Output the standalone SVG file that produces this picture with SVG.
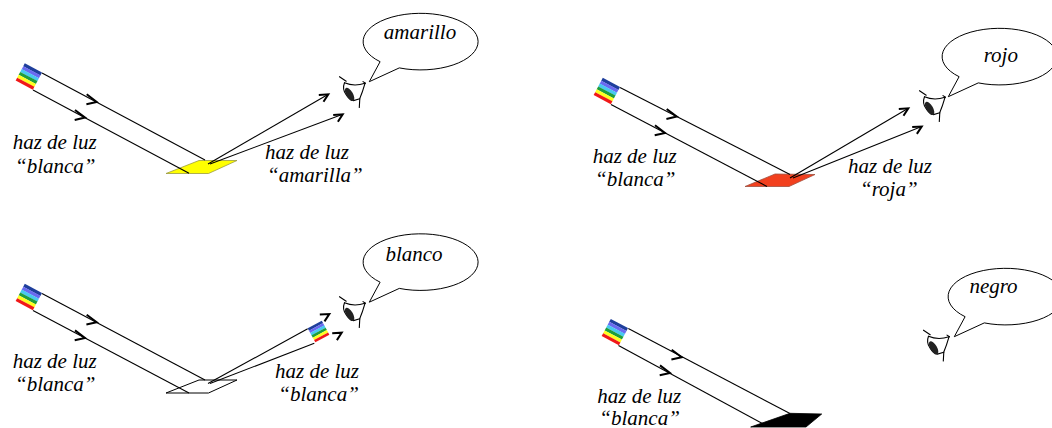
<svg xmlns="http://www.w3.org/2000/svg" xmlns:xlink="http://www.w3.org/1999/xlink" width="1052" height="428" viewBox="0 0 1052 428">
  <style>
    .lbl { font-family: "Liberation Serif", "Times New Roman", serif; font-style: italic; font-size: 21px; fill: #000; }
    .beam { fill: none; stroke: #000; stroke-width: 1.1; }
    .chev { fill: none; stroke: #000; stroke-width: 2; stroke-linejoin: miter; stroke-linecap: butt; }
    .bubble { fill: #fff; stroke: #000; stroke-width: 1; stroke-linejoin: round; }
    .eye-line { fill: none; stroke: #000; stroke-width: 1.1; stroke-linecap: round; }
  </style>
  <defs>
    <!-- white light source: six spectral bands, 19.5 x 19.5 -->
    <g id="spectrum">
      <rect x="0" y="0" width="19.5" height="3.35" fill="#1f3f9c"/>
      <rect x="0" y="3.25" width="19.5" height="3.35" fill="#6a6af0"/>
      <rect x="0" y="6.5" width="19.5" height="3.35" fill="#48c8f0"/>
      <rect x="0" y="9.75" width="19.5" height="3.35" fill="#1e9e3c"/>
      <rect x="0" y="13" width="19.5" height="3.35" fill="#ffff20"/>
      <rect x="0" y="16.25" width="19.5" height="3.25" fill="#f01818"/>
    </g>
    <!-- eye seen in profile, origin at the eyelash tick -->
    <g id="eye">
      <path class="eye-line" d="M-0.5,-0.3 L6.2,4.2"/>
      <path class="eye-line" d="M4.5,5.8 Q14,9.8 25,6.3"/>
      <path class="eye-line" d="M23,4.6 L25.5,6.2"/>
      <path class="eye-line" d="M25,6.3 Q22.5,15 19.8,21.5 L19.3,30.5"/>
      <path class="eye-line" d="M4.5,5.8 Q2,12 6,17.5 Q9,22.5 13.5,23.6 L19.8,21.8"/>
      <ellipse cx="9.6" cy="17.4" rx="3.4" ry="7.4" transform="rotate(-30 9.6 17.4)" fill="#222"/>
    </g>
    <!-- speech bubble with its tail -->
    <path id="bubble" class="bubble" d="M380.1,61.7 L369.3,81.7 L399.3,67.9 A57.5,28.3 0 1 0 380.1,61.7 Z"/>
    <!-- open arrowheads, tip at origin -->
    <path id="chev-in" class="chev" d="M-10,-7.6 L0,0 L-10.3,2.3"/>
    <path id="chev-out" class="chev" d="M-9.5,0.6 L0,0 L-4.8,7.4"/>
  </defs>

  <!-- yellow surface -->
  <g id="panel-yellow">
    <g id="source-1"><use xlink:href="#spectrum" href="#spectrum" transform="translate(24.8,63.3) rotate(28)"/></g>
    <g id="surface-1"><polygon points="166,173.5 199,160.5 237,160.5 208.5,173.5" fill="#ffff00" stroke="#9a9a40" stroke-width="0.8"/></g>
    <g id="connectors-1">
      <line class="beam" x1="42" y1="73" x2="205" y2="160"/>
      <line class="beam" x1="33" y1="90" x2="189" y2="173.3"/>
      <use href="#chev-in" xlink:href="#chev-in" transform="translate(96.7,101.9)"/>
      <use href="#chev-in" xlink:href="#chev-in" transform="translate(85,117.6)"/>
      <line class="beam" x1="208" y1="164" x2="328.3" y2="94.3"/>
      <line class="beam" x1="210" y1="164" x2="342.7" y2="114.3"/>
      <use href="#chev-out" xlink:href="#chev-out" transform="translate(328.3,94.3)"/>
      <use href="#chev-out" xlink:href="#chev-out" transform="translate(342.7,114.3)"/>
    </g>
    <g id="eye-1"><use href="#eye" xlink:href="#eye" transform="translate(340,77)"/></g>
    <g id="bubble-1">
      <use href="#bubble" xlink:href="#bubble"/>
      <text class="lbl" x="420" y="39" text-anchor="middle">amarillo</text>
    </g>
    <g id="labels-1">
      <text class="lbl" x="12.7" y="149">haz de luz</text>
      <text class="lbl" x="15" y="172.5">“blanca”</text>
      <text class="lbl" x="265" y="158.8">haz de luz</text>
      <text class="lbl" x="267" y="181.6">“amarilla”</text>
    </g>
  </g>

  <!-- red surface -->
  <g id="panel-red">
    <g id="source-2"><use href="#spectrum" xlink:href="#spectrum" transform="translate(602.8,77.8) rotate(28)"/></g>
    <g id="surface-2"><polygon points="745,186.5 775,174 815,174.5 789,186.5" fill="#f2401e" stroke="#a05040" stroke-width="0.8"/></g>
    <g id="connectors-2">
      <line class="beam" x1="620" y1="87.5" x2="790" y2="174.5"/>
      <line class="beam" x1="611" y1="104.5" x2="767" y2="186.5"/>
      <use href="#chev-in" xlink:href="#chev-in" transform="translate(676.7,116.6)"/>
      <use href="#chev-in" xlink:href="#chev-in" transform="translate(665,132.9)"/>
      <line class="beam" x1="790" y1="178" x2="908.3" y2="108.3"/>
      <line class="beam" x1="793" y1="178" x2="921.7" y2="126.5"/>
      <use href="#chev-out" xlink:href="#chev-out" transform="translate(908.3,108.3)"/>
      <use href="#chev-out" xlink:href="#chev-out" transform="translate(921.7,126.5)"/>
    </g>
    <g id="eye-2"><use href="#eye" xlink:href="#eye" transform="translate(920,91)"/></g>
    <g id="bubble-2">
      <use href="#bubble" xlink:href="#bubble" transform="translate(579,15)"/>
      <text class="lbl" x="1000.8" y="61.7" text-anchor="middle">rojo</text>
    </g>
    <g id="labels-2">
      <text class="lbl" x="592.7" y="163.3">haz de luz</text>
      <text class="lbl" x="595" y="186">“blanca”</text>
      <text class="lbl" x="848" y="172.8">haz de luz</text>
      <text class="lbl" x="860" y="195.6">“roja”</text>
    </g>
  </g>

  <!-- white surface -->
  <g id="panel-white">
    <g id="source-3"><use href="#spectrum" xlink:href="#spectrum" transform="translate(24.8,283.8) rotate(28)"/></g>
    <g id="surface-3"><polygon points="166,393 199,380 237,380 208.5,393" fill="#fff" stroke="#000" stroke-width="1"/></g>
    <g id="connectors-3">
      <line class="beam" x1="42" y1="293.5" x2="205" y2="380"/>
      <line class="beam" x1="33" y1="310.5" x2="189" y2="393"/>
      <use href="#chev-in" xlink:href="#chev-in" transform="translate(96.7,322.3)"/>
      <use href="#chev-in" xlink:href="#chev-in" transform="translate(85,338)"/>
      <line class="beam" x1="208" y1="383.5" x2="307.7" y2="328.8"/>
      <line class="beam" x1="210" y1="383.5" x2="314.3" y2="343.3"/>
      <use href="#chev-out" xlink:href="#chev-out" transform="translate(329.3,314)"/>
      <use href="#chev-out" xlink:href="#chev-out" transform="translate(341.7,332.7)"/>
    </g>
    <g id="reflected-3"><use href="#spectrum" xlink:href="#spectrum" transform="translate(307.7,328.3) rotate(-28.5) scale(0.82)"/></g>
    <g id="eye-3"><use href="#eye" xlink:href="#eye" transform="translate(340,297)"/></g>
    <g id="bubble-3">
      <use href="#bubble" xlink:href="#bubble" transform="translate(0,220.5)"/>
      <text class="lbl" x="414" y="260.7" text-anchor="middle">blanco</text>
    </g>
    <g id="labels-3">
      <text class="lbl" x="12.7" y="368">haz de luz</text>
      <text class="lbl" x="15" y="391">“blanca”</text>
      <text class="lbl" x="275" y="377.7">haz de luz</text>
      <text class="lbl" x="278.3" y="400.7">“blanca”</text>
    </g>
  </g>

  <!-- black surface -->
  <g id="panel-black">
    <g id="source-4"><use href="#spectrum" xlink:href="#spectrum" transform="translate(610.8,318.9) rotate(28)"/></g>
    <g id="surface-4"><polygon points="750.7,427 790,413.3 821.7,414 806,427" fill="#000" stroke="#000" stroke-width="0.8"/></g>
    <g id="connectors-4">
      <line class="beam" x1="628.3" y1="328.5" x2="790" y2="413.5"/>
      <line class="beam" x1="618.5" y1="345.5" x2="768" y2="426.5"/>
      <use href="#chev-in" xlink:href="#chev-in" transform="translate(681.7,357.3)"/>
      <use href="#chev-in" xlink:href="#chev-in" transform="translate(670,373)"/>
    </g>
    <g id="eye-4"><use href="#eye" xlink:href="#eye" transform="translate(924,330.5)"/></g>
    <g id="bubble-4">
      <use href="#bubble" xlink:href="#bubble" transform="translate(585,255)"/>
      <text class="lbl" x="993.5" y="293.3" text-anchor="middle">negro</text>
    </g>
    <g id="labels-4">
      <text class="lbl" x="597.3" y="402.7">haz de luz</text>
      <text class="lbl" x="599.3" y="425">“blanca”</text>
    </g>
  </g>
</svg>
